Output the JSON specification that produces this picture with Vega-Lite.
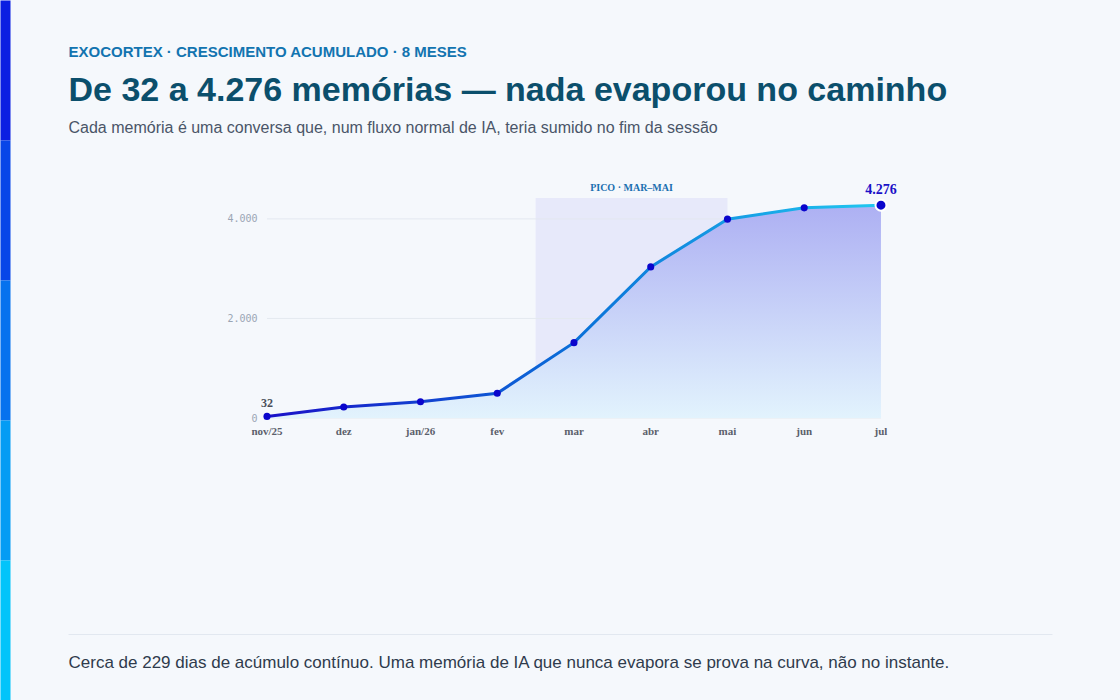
{
  "$schema": "https://vega.github.io/schema/vega-lite/v6.json",
  "autosize": "none",
  "width": 984,
  "height": 436,
  "padding": {"left": 68, "top": 198, "right": 68, "bottom": 66},
  "background": "#f5f8fc",
  "config": {
    "view": {"stroke": null},
    "locale": {"number": {"decimal": ",", "thousands": ".", "grouping": [3], "currency": ["R$", ""]}}
  },
  "resolve": {"scale": {"y": "independent"}, "axis": {"y": "independent"}},
  "layer": [
    {
      "data": {"values": [
        {"mes": "nov/25", "i": 0, "memorias": 32},
        {"mes": "dez", "i": 1, "memorias": 221},
        {"mes": "jan/26", "i": 2, "memorias": 328},
        {"mes": "fev", "i": 3, "memorias": 497},
        {"mes": "mar", "i": 4, "memorias": 1514},
        {"mes": "abr", "i": 5, "memorias": 3036},
        {"mes": "mai", "i": 6, "memorias": 3995},
        {"mes": "jun", "i": 7, "memorias": 4222},
        {"mes": "jul", "i": 8, "memorias": 4276}
      ]},
      "layer": [
        {
          "data": {"values": [{"faixa": "PICO · MAR–MAI", "inicio": 3.5, "fim": 6}]},
          "mark": {"type": "rect", "color": "#4f46e5", "opacity": 0.08},
          "encoding": {
            "x": {"field": "inicio", "type": "quantitative",
              "scale": {"domain": [-2.5928, 10.2285], "nice": false, "zero": false},
              "axis": {"orient": "bottom", "labels": false, "ticks": false, "grid": false, "domain": true,
                "domainColor": "#e2e8f0", "domainWidth": 1,
                "title": "Cerca de 229 dias de acúmulo contínuo. Uma memória de IA que nunca evapora se prova na curva, não no instante.",
                "titleAlign": "left", "titleAnchor": "start", "titleX": 0, "titleY": 28, "titleBaseline": "middle", "titleLimit": 1100,
                "titleFont": "Liberation Sans", "titleFontSize": 17, "titleFontWeight": "normal", "titleColor": "#2f3b4c"}},
            "x2": {"field": "fim"},
            "y": {"datum": 0, "type": "quantitative",
              "scale": {"domain": [0, 4420], "range": [220, 0], "nice": false, "zero": true},
              "axis": {"orient": "left", "offset": -199, "values": [0, 2000, 4000], "format": ",d",
                "labelFont": "DejaVu Sans Mono", "labelFontSize": 10, "labelColor": "#9aa5b4", "labelPadding": 10,
                "ticks": false, "domain": false, "grid": false,
                "title": "EXOCORTEX · CRESCIMENTO ACUMULADO · 8 MESES",
                "titleAngle": 0, "titleAlign": "left", "titleBaseline": "middle", "titleX": -199, "titleY": -147, "titleLimit": 1000,
                "titleFont": "Liberation Sans", "titleFontSize": 15, "titleFontWeight": "bold", "titleColor": "#1274b0"}},
            "y2": {"datum": 4420}
          }
        },
        {
          "data": {"values": [{"grade": 0}, {"grade": 2000}, {"grade": 4000}]},
          "mark": {"type": "rule", "color": "#e4e9f0", "strokeWidth": 1},
          "encoding": {
            "y": {"field": "grade", "type": "quantitative"},
            "x": {"datum": 0},
            "x2": {"datum": 8}
          }
        },
        {
          "mark": {"type": "area", "interpolate": "linear",
            "color": {"gradient": "linear", "x1": 0, "y1": 0, "x2": 0, "y2": 1,
              "stops": [{"offset": 0, "color": "#adb0f3"}, {"offset": 1, "color": "#e2f3fd"}]}},
          "encoding": {
            "x": {"field": "i", "type": "quantitative"},
            "y": {"field": "memorias", "type": "quantitative"},
            "y2": {"datum": 0}
          }
        },
        {
          "mark": {"type": "line", "strokeWidth": 3,
            "stroke": {"gradient": "linear", "x1": 0, "y1": 0, "x2": 1, "y2": 0,
              "stops": [{"offset": 0, "color": "#1a10c8"}, {"offset": 0.5, "color": "#0a6fd8"}, {"offset": 1, "color": "#20c8f0"}]}},
          "encoding": {
            "x": {"field": "i", "type": "quantitative"},
            "y": {"field": "memorias", "type": "quantitative"}
          }
        },
        {
          "transform": [{"filter": "datum.i < 8"}],
          "mark": {"type": "point", "filled": true, "color": "#0a05cc", "opacity": 1, "size": 50},
          "encoding": {
            "x": {"field": "i", "type": "quantitative"},
            "y": {"field": "memorias", "type": "quantitative"}
          }
        },
        {
          "transform": [{"filter": "datum.i == 8"}],
          "mark": {"type": "point", "filled": true, "color": "#0a05cc", "opacity": 1, "size": 120, "stroke": "#ffffff", "strokeWidth": 2},
          "encoding": {
            "x": {"field": "i", "type": "quantitative"},
            "y": {"field": "memorias", "type": "quantitative"}
          }
        },
        {
          "mark": {"type": "text", "font": "Liberation Serif", "fontWeight": "bold", "fontSize": 11, "color": "#5b606b", "baseline": "middle", "dy": 14},
          "encoding": {
            "x": {"field": "i", "type": "quantitative"},
            "y": {"datum": 0},
            "text": {"field": "mes"}
          }
        },
        {
          "transform": [{"filter": "datum.i == 0"}],
          "mark": {"type": "text", "font": "Liberation Serif", "fontWeight": "bold", "fontSize": 12, "color": "#4a4f5a", "baseline": "middle", "dy": -13},
          "encoding": {
            "x": {"field": "i", "type": "quantitative"},
            "y": {"field": "memorias", "type": "quantitative"},
            "text": {"field": "memorias", "format": ",d"}
          }
        },
        {
          "transform": [{"filter": "datum.i == 8"}],
          "mark": {"type": "text", "font": "Liberation Serif", "fontWeight": "bold", "fontSize": 14, "color": "#1a10c8", "baseline": "middle", "dy": -15},
          "encoding": {
            "x": {"field": "i", "type": "quantitative"},
            "y": {"field": "memorias", "type": "quantitative"},
            "text": {"field": "memorias", "format": ",d"}
          }
        },
        {
          "data": {"values": [{"faixa": "PICO · MAR–MAI", "centro": 4.75, "topo": 4420}]},
          "mark": {"type": "text", "font": "Liberation Serif", "fontWeight": "bold", "fontSize": 10, "color": "#1a6fb0", "baseline": "middle", "dy": -10},
          "encoding": {
            "x": {"field": "centro", "type": "quantitative"},
            "y": {"field": "topo", "type": "quantitative"},
            "text": {"field": "faixa"}
          }
        }
      ]
    },
    {
      "data": {"values": [{"faixa": 0}]},
      "mark": {"type": "rule", "opacity": 0},
      "encoding": {"y": {"datum": 0, "type": "quantitative",
        "scale": {"domain": [0, 1], "range": [-58, -198]},
        "axis": {"orient": "left", "offset": 63, "domain": true, "domainWidth": 10, "domainColor": "#0b1ee2", "labels": false, "ticks": false, "grid": false,
          "title": "De 32 a 4.276 memórias — nada evaporou no caminho",
          "titleAngle": 0, "titleAlign": "left", "titleBaseline": "middle", "titleX": 63, "titleY": -108, "titleLimit": 1100,
          "titleFont": "Liberation Sans", "titleFontSize": 34, "titleFontWeight": "bold", "titleColor": "#0b4f6c"}}}
    },
    {
      "data": {"values": [{"faixa": 1}]},
      "mark": {"type": "rule", "opacity": 0},
      "encoding": {"y": {"datum": 0, "type": "quantitative",
        "scale": {"domain": [0, 1], "range": [82, -58]},
        "axis": {"orient": "left", "offset": 63, "domain": true, "domainWidth": 10, "domainColor": "#0846e8", "labels": false, "ticks": false, "grid": false,
          "title": "Cada memória é uma conversa que, num fluxo normal de IA, teria sumido no fim da sessão",
          "titleAngle": 0, "titleAlign": "left", "titleBaseline": "middle", "titleX": 63, "titleY": -71, "titleLimit": 1100,
          "titleFont": "Liberation Sans", "titleFontSize": 16, "titleFontWeight": "normal", "titleColor": "#4a5568"}}}
    },
    {
      "data": {"values": [{"faixa": 2}]},
      "mark": {"type": "rule", "opacity": 0},
      "encoding": {"y": {"datum": 0, "type": "quantitative",
        "scale": {"domain": [0, 1], "range": [222, 82]},
        "axis": {"orient": "left", "offset": 63, "domain": true, "domainWidth": 10, "domainColor": "#0672ee", "labels": false, "ticks": false, "grid": false, "title": null}}}
    },
    {
      "data": {"values": [{"faixa": 3}]},
      "mark": {"type": "rule", "opacity": 0},
      "encoding": {"y": {"datum": 0, "type": "quantitative",
        "scale": {"domain": [0, 1], "range": [362, 222]},
        "axis": {"orient": "left", "offset": 63, "domain": true, "domainWidth": 10, "domainColor": "#049cf4", "labels": false, "ticks": false, "grid": false, "title": null}}}
    },
    {
      "data": {"values": [{"faixa": 4}]},
      "mark": {"type": "rule", "opacity": 0},
      "encoding": {"y": {"datum": 0, "type": "quantitative",
        "scale": {"domain": [0, 1], "range": [502, 362]},
        "axis": {"orient": "left", "offset": 63, "domain": true, "domainWidth": 10, "domainColor": "#02c4fa", "labels": false, "ticks": false, "grid": false, "title": null}}}
    }
  ]
}
